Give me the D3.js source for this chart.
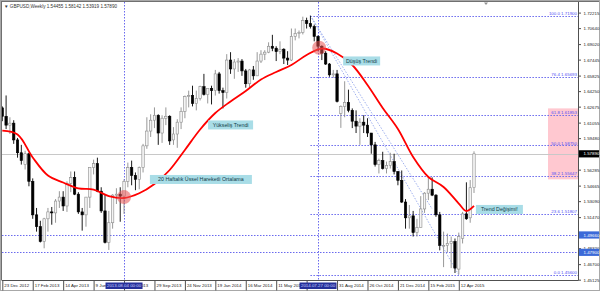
<!DOCTYPE html>
<html><head><meta charset="utf-8">
<script src="https://cdn.jsdelivr.net/npm/d3@7"></script>
<style>
html,body{margin:0;padding:0;background:#fff;}
svg{display:block;font-family:"Liberation Sans",Arial,sans-serif;}
</style></head><body>
<svg id="chart" width="600" height="291"></svg>
<script>
// GBPUSD weekly bars, index 0 = week of 23 Dec 2012
const opens  = [1.6255,1.6170,1.6080,1.6100,1.5930,1.5800,1.5680,1.5790,1.5510,1.5170,1.5050,1.4900,1.5130,1.5200,1.5190,1.5310,1.5350,1.5260,1.5490,1.5550,1.5380,1.5200,1.5170,1.5350,1.5650,1.5690,1.5410,1.5210,1.4890,1.5090,1.5370,1.5380,1.5360,1.5510,1.5650,1.5570,1.5530,1.5650,1.5870,1.6020,1.6130,1.6180,1.6000,1.6150,1.6170,1.5930,1.5990,1.6110,1.6220,1.6370,1.6380,1.6300,1.6350,1.6470,1.6390,1.6450,1.6430,1.6600,1.6430,1.6410,1.6740,1.6650,1.6720,1.6730,1.6630,1.6500,1.6640,1.6580,1.6730,1.6800,1.6820,1.6880,1.6860,1.6825,1.6850,1.6760,1.6740,1.6980,1.7010,1.7020,1.7140,1.7110,1.7080,1.6980,1.6880,1.6810,1.6700,1.6590,1.6600,1.6200,1.6270,1.6310,1.6230,1.6120,1.6070,1.6110,1.6080,1.6000,1.5880,1.5680,1.5720,1.5640,1.5670,1.5710,1.5610,1.5520,1.5300,1.5140,1.5160,1.4990,1.5040,1.5230,1.5390,1.5430,1.5370,1.5170,1.4860,1.4860,1.4880,1.4900,1.4620,1.4930,1.5180,1.5140,1.54455];
const highs  = [1.6270,1.6381,1.6160,1.6130,1.5950,1.5880,1.5820,1.5800,1.5540,1.5240,1.5110,1.5140,1.5240,1.5250,1.5330,1.5410,1.5410,1.5510,1.5610,1.5610,1.5400,1.5240,1.5350,1.5650,1.5730,1.5750,1.5450,1.5380,1.5210,1.5380,1.5440,1.5450,1.5530,1.5700,1.5720,1.5600,1.5660,1.5890,1.6160,1.6190,1.6260,1.6190,1.6180,1.6260,1.6180,1.6060,1.6140,1.6260,1.6380,1.6430,1.6480,1.6430,1.6480,1.6600,1.6450,1.6480,1.6640,1.6620,1.6460,1.6800,1.6820,1.6750,1.6760,1.6750,1.6650,1.6650,1.6680,1.6820,1.6840,1.6840,1.6920,1.6996,1.6880,1.6930,1.6860,1.6830,1.7060,1.7060,1.7040,1.7180,1.7170,1.7190,1.7100,1.6990,1.6890,1.6830,1.6710,1.6640,1.6640,1.6280,1.6525,1.6440,1.6250,1.6230,1.6150,1.6180,1.6150,1.6000,1.5910,1.5740,1.5810,1.5710,1.5800,1.5790,1.5610,1.5620,1.5330,1.5270,1.5210,1.5130,1.5360,1.5400,1.5550,1.5550,1.5380,1.5200,1.5000,1.4980,1.4950,1.4930,1.4990,1.5200,1.5500,1.5523,1.58142];
const lows   = [1.6120,1.6040,1.5990,1.5890,1.5750,1.5680,1.5630,1.5460,1.5130,1.5000,1.4890,1.4831,1.5000,1.5070,1.5090,1.5240,1.5210,1.5200,1.5400,1.5370,1.5180,1.5010,1.5050,1.5240,1.5580,1.5400,1.5190,1.4880,1.4814,1.5030,1.5280,1.5100,1.5180,1.5450,1.5470,1.5420,1.5430,1.5600,1.5840,1.5960,1.6050,1.5880,1.5900,1.6080,1.5880,1.5880,1.5850,1.6040,1.6150,1.6260,1.6270,1.6230,1.6330,1.6380,1.6300,1.6290,1.6380,1.6400,1.6250,1.6350,1.6600,1.6550,1.6620,1.6580,1.6460,1.6460,1.6540,1.6580,1.6710,1.6740,1.6810,1.6830,1.6730,1.6800,1.6700,1.6690,1.6730,1.6940,1.6960,1.7000,1.7060,1.7060,1.6930,1.6830,1.6740,1.6690,1.6570,1.6560,1.6310,1.6052,1.6160,1.6210,1.6050,1.6000,1.5880,1.6000,1.5960,1.5790,1.5660,1.5590,1.5630,1.5590,1.5640,1.5580,1.5470,1.5290,1.5030,1.5030,1.4950,1.4950,1.5040,1.5190,1.5320,1.5360,1.5150,1.4810,1.4640,1.4790,1.4630,1.4580,1.4566,1.4880,1.5120,1.5090,1.53919];
const closes = [1.6170,1.6080,1.6100,1.5930,1.5800,1.5720,1.5790,1.5510,1.5170,1.5050,1.4900,1.5130,1.5200,1.5190,1.5310,1.5350,1.5260,1.5490,1.5550,1.5380,1.5200,1.5170,1.5350,1.5650,1.5690,1.5410,1.5210,1.4890,1.5090,1.5370,1.5380,1.5360,1.5510,1.5650,1.5570,1.5530,1.5650,1.5870,1.6020,1.6130,1.6180,1.6000,1.6150,1.6170,1.5920,1.5990,1.6110,1.6220,1.6370,1.6380,1.6300,1.6350,1.6470,1.6390,1.6450,1.6430,1.6600,1.6430,1.6410,1.6740,1.6650,1.6720,1.6730,1.6630,1.6500,1.6640,1.6580,1.6730,1.6800,1.6820,1.6880,1.6860,1.6825,1.6850,1.6760,1.6740,1.6980,1.7010,1.7020,1.7140,1.7110,1.7080,1.6980,1.6880,1.6810,1.6700,1.6590,1.6600,1.6320,1.6270,1.6310,1.6230,1.6120,1.6070,1.6110,1.6080,1.6000,1.5880,1.5680,1.5720,1.5640,1.5670,1.5710,1.5610,1.5520,1.5300,1.5140,1.5160,1.4990,1.5040,1.5230,1.5390,1.5430,1.5370,1.5170,1.4860,1.4860,1.4880,1.4900,1.4630,1.4950,1.5180,1.5130,1.5445,1.57890];

// 20 week EMA
const emaWeeks  = [0,4,8,12,16,20,24,28,32,36,40,44,48,52,56,60,64,68,72,76,80,84,88,92,96,100,104,108,112,116,120,122,124];
const emaValues = [1.6024,1.5985,1.5752,1.5569,1.5498,1.5438,1.5427,1.5361,1.5341,1.5389,1.5483,1.5625,1.5828,1.6036,1.6203,1.6320,1.6426,1.6543,1.6619,1.6690,1.6791,1.6857,1.6807,1.6690,1.6487,1.6254,1.6041,1.5757,1.5554,1.5453,1.5285,1.5209,1.5260];

const priceTicks = [1.72215,1.70640,1.69020,1.67445,1.65825,1.64250,1.62675,1.61055,1.59480,1.57905,1.56285,1.54665,1.53090,1.51470,1.49895,1.48320,1.46700,1.45125];
const timeLabels = ["23 Dec 2012","17 Feb 2013","14 Apr 2013","9 Jun 2013","4 Aug 2013","29 Sep 2013","24 Nov 2013","19 Jan 2014","16 Mar 2014","11 May 2014","6 Jul 2014","31 Aug 2014","26 Oct 2014","21 Dec 2014","15 Feb 2015","12 Apr 2015"];

const fibLevels = ["0.0","23.6","38.2","50.0","61.8","76.4","100.0"];
const fibPrices = [1.45600,1.51807,1.55647,1.58750,1.61853,1.65693,1.71900];
const hLinePrices = [1.49660,1.47900];
const lastPrice = 1.57890;
const markerWeeks = [32,83];
const markerLabels = ["2013.08.04 00:00","2014.07.27 00:00"];

const W = 600, H = 291;
const plotL = 2, plotR = 578.5, plotT = 2, plotB = 280.5;
const svg = d3.select("#chart");

const x = d3.scaleLinear().domain([0,124]).range([2.3,474.0]);
const y = d3.scaleLinear().domain([1.719,1.456]).range([15.7,275.0]);

svg.append("defs").append("clipPath").attr("id","plot")
  .append("rect").attr("x",plotL).attr("y",plotT).attr("width",plotR-plotL).attr("height",plotB-plotT);

// outer frame
svg.append("rect").attr("x",0.5).attr("y",0.5).attr("width",W-1).attr("height",H-1)
  .attr("fill","none").attr("stroke","#a8a8a8");
svg.append("line").attr("x1",1).attr("x2",W-1).attr("y1",1.5).attr("y2",1.5).attr("stroke","#707070");
svg.append("line").attr("x1",1.5).attr("x2",1.5).attr("y1",1).attr("y2",plotB).attr("stroke","#707070");

const plot = svg.append("g").attr("clip-path","url(#plot)");

// fib zone
plot.append("rect").attr("x",548).attr("width",plotR-548)
  .attr("y",y(1.6250)).attr("height",y(1.5530)-y(1.6250)).attr("fill","#ffc8d0");

// current price line
plot.append("line").attr("x1",plotL).attr("x2",plotR).attr("y1",Math.round(y(lastPrice))+0.5).attr("y2",Math.round(y(lastPrice))+0.5)
  .attr("stroke","#c8c8c8");

const dotted = "#6a6aee";
// horizontal dotted lines across the chart
plot.selectAll(".hline").data(hLinePrices).join("line")
  .attr("x1",plotL).attr("x2",plotR)
  .attr("y1",d=>Math.round(y(d))+0.5).attr("y2",d=>Math.round(y(d))+0.5)
  .attr("stroke",dotted).attr("stroke-dasharray","1.5,1.5");

// vertical marker lines
plot.selectAll(".vline").data(markerWeeks).join("line")
  .attr("x1",d=>Math.round(x(d))+0.5).attr("x2",d=>Math.round(x(d))+0.5)
  .attr("y1",plotT).attr("y2",plotB)
  .attr("stroke",dotted).attr("stroke-dasharray","1.5,1.5");

// fibonacci retracement from the July 2014 top to the April 2015 low
const fibStart = x(81);
plot.selectAll(".fib").data(fibPrices).join("line")
  .attr("x1",fibStart).attr("x2",plotR)
  .attr("y1",d=>Math.round(y(d))+0.5).attr("y2",d=>Math.round(y(d))+0.5)
  .attr("stroke",dotted).attr("stroke-dasharray","1.5,1.5");
plot.append("line").attr("x1",x(81)).attr("y1",y(1.719)).attr("x2",x(120)).attr("y2",y(1.456))
  .attr("stroke","#9fb0ee").attr("stroke-dasharray","1.5,1.5");
plot.append("line").attr("x1",x(81)).attr("y1",y(1.719)).attr("x2",x(113)).attr("y2",y(1.5230))
  .attr("stroke","#9fb0ee").attr("stroke-dasharray","1.5,1.5");
svg.selectAll(".fibtxt").data(fibPrices).join("text")
  .attr("x",577).attr("y",d=>y(d)-0.8).attr("text-anchor","end")
  .attr("font-size",4.4).attr("fill","#4f4ff5")
  .text((d,i)=>fibLevels[i]+" "+d.toFixed(5));

// candles
const bars = opens.map((o,i)=>({i,o,h:highs[i],l:lows[i],c:closes[i]}));
const bw = 2.4;
const cg = plot.append("g");
cg.selectAll(".wick").data(bars).join("line")
  .attr("x1",d=>x(d.i)).attr("x2",d=>x(d.i))
  .attr("y1",d=>y(d.h)).attr("y2",d=>y(d.l))
  .attr("stroke",d=>d.c>=d.o?"#8c8c8c":"#000").attr("stroke-width",0.9);
cg.selectAll(".body").data(bars).join("rect")
  .attr("x",d=>x(d.i)-bw/2).attr("width",bw)
  .attr("y",d=>y(Math.max(d.o,d.c)))
  .attr("height",d=>Math.max(0.8,Math.abs(y(d.o)-y(d.c))))
  .attr("fill",d=>d.c>=d.o?"#f4f4f4":"#000")
  .attr("stroke",d=>d.c>=d.o?"#8c8c8c":"#000").attr("stroke-width",0.6);

// EMA line
plot.append("path")
  .datum(emaWeeks.map((w,i)=>[w,emaValues[i]]))
  .attr("fill","none").attr("stroke","#ff0000").attr("stroke-width",1.8)
  .attr("d",d3.line().x(d=>x(d[0])).y(d=>y(d[1])).curve(d3.curveCatmullRom));

// crossover circles
plot.selectAll(".cross").data([[32,1.5350],[83.3,1.6865]]).join("circle")
  .attr("cx",d=>x(d[0])).attr("cy",d=>y(d[1])).attr("r",7)
  .attr("fill","rgba(232,80,80,0.55)");

// annotations
const notes = [
  {t:"Düşüş Trendi", i:89.6, p:1.6731, w:37},
  {t:"Yükseliş Trendi", i:54.1, p:1.6082, w:45},
  {t:"20 Haftalık Üssel Hareketli Ortalama", i:38.8, p:1.5529, w:102},
  {t:"Trend Değişimi!", i:124.5, p:1.5225, w:47}
];
const ng = svg.selectAll(".note").data(notes).join("g")
  .attr("transform",d=>`translate(${x(d.i)},${y(d.p)})`);
ng.append("rect").attr("x",0).attr("y",-4.5).attr("width",d=>d.w).attr("height",9).attr("fill","#a9dde7");
ng.append("text").attr("x",d=>d.w/2).attr("y",1.9).attr("text-anchor","middle")
  .attr("font-size",5.3).attr("fill","#123c48").text(d=>d.t);

// axes
svg.append("line").attr("x1",plotR).attr("x2",plotR).attr("y1",plotT).attr("y2",plotB).attr("stroke","#505050");
svg.append("line").attr("x1",plotL).attr("x2",plotR).attr("y1",plotB).attr("y2",plotB).attr("stroke","#505050");

const yAxis = svg.append("g").attr("transform",`translate(${plotR},0)`)
  .call(d3.axisRight(y).tickValues(priceTicks).tickFormat(d=>d.toFixed(5)).tickSize(2.5).tickSizeOuter(0));
yAxis.select(".domain").remove();
yAxis.selectAll("line").attr("stroke","#505050");
yAxis.selectAll("text").attr("x",5).attr("font-size",4.4).attr("fill","#222").attr("font-family","Liberation Sans, Arial, sans-serif");

const xAxis = svg.append("g").attr("transform",`translate(0,${plotB})`)
  .call(d3.axisBottom(x).tickValues(timeLabels.map((_,i)=>i*8)).tickFormat((d,i)=>timeLabels[i]).tickSize(10).tickSizeOuter(0));
xAxis.select(".domain").remove();
xAxis.selectAll("line").attr("stroke","#505050");
xAxis.selectAll("text").attr("text-anchor","start").attr("x",1.5).attr("y",6.9).attr("dy",0)
  .attr("font-size",4.4).attr("fill","#222").attr("font-family","Liberation Sans, Arial, sans-serif");

// highlighted axis labels
const markers = svg.selectAll(".mk").data(markerWeeks).join("g")
  .attr("transform",d=>`translate(${x(d)},${plotB})`);
markers.append("rect").attr("x",-18.5).attr("y",2).attr("width",37).attr("height",6.5).attr("fill","#26309a");
markers.append("text").attr("y",6.9).attr("text-anchor","middle").attr("font-size",4.4).attr("fill","#c8d0ff")
  .text((d,i)=>markerLabels[i]);

const priceBoxes = [{p:lastPrice, fill:"#000"}].concat(hLinePrices.map(p=>({p, fill:"#3c6ad8"})));
const pb = svg.selectAll(".pb").data(priceBoxes).join("g").attr("transform",d=>`translate(${plotR+0.5},${y(d.p)})`);
pb.append("rect").attr("x",0).attr("y",-3.6).attr("width",W-plotR-1.5).attr("height",7.2).attr("fill",d=>d.fill);
pb.append("text").attr("x",4.5).attr("y",1.6).attr("font-size",4.4).attr("fill","#fff").text(d=>d.p.toFixed(5));

// header
svg.append("text").attr("x",4).attr("y",7.6).attr("font-size",4.6).attr("fill","#333")
  .text("▼ GBPUSD,Weekly  1.54455 1.58142 1.53919 1.57890");
svg.append("path").attr("d","M484,2.5 L488,2.5 L486,5 Z").attr("fill","#909090");
</script>
</body></html>
